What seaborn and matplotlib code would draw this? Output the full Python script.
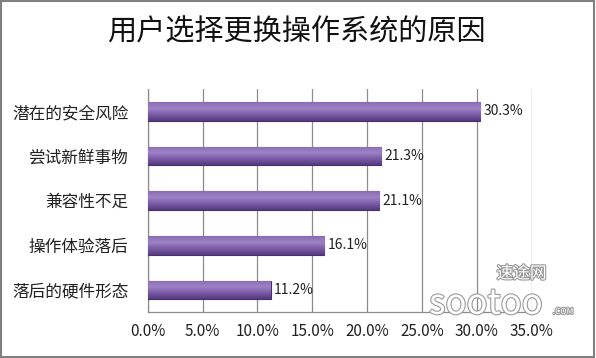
import numpy as np
import pandas as pd
import seaborn as sns
import matplotlib.pyplot as plt
import matplotlib.patheffects as pe
from matplotlib.patches import Rectangle
from matplotlib.colors import LinearSegmentedColormap

# data
reasons = ['潜在的安全风险', '尝试新鲜事物', '兼容性不足', '操作体验落后', '落后的硬件形态']
shares = [30.3, 21.3, 21.1, 16.1, 11.2]
xticks = [0, 5, 10, 15, 20, 25, 30, 35]

sns.set_theme(style='white')
plt.rcParams['font.family'] = ['Noto Sans CJK SC', 'DejaVu Sans']

df = pd.DataFrame({'reason': reasons, 'share': shares})

fig = plt.figure(figsize=(5.96, 3.58), dpi=100)
ax = fig.add_axes([0.248, 0.128, 0.644, 0.623])

sns.barplot(data=df, x='share', y='reason', color='#7B5BA6', edgecolor='#46306b',
            linewidth=0.8, width=0.42, ax=ax, zorder=3)

# cylinder shading: gradient clipped to each bar
cyl = LinearSegmentedColormap.from_list('cyl', ['#8a6cb5', '#9c83c5', '#7b5ba6', '#553a80'])
grad = np.linspace(0, 1, 64).reshape(-1, 1)
xl, yl = ax.get_xlim(), ax.get_ylim()
for p in list(ax.patches):
    x0, y0 = p.get_x(), p.get_y()
    w, h = p.get_width(), p.get_height()
    im = ax.imshow(grad, cmap=cyl, aspect='auto', origin='upper',
                   extent=[x0, x0 + w, y0 + h, y0], zorder=3.5)
    im.set_clip_path(p)
ax.set_xlim(xl)
ax.set_ylim(yl)

for i, v in enumerate(shares):
    ax.text(v + 0.3, i, f'{v}%', va='center', ha='left', fontsize=10, color='#222222', zorder=5)

ax.set_xlim(0, 35)
ax.set_xticks(xticks)
ax.set_xticklabels([f'{t:.1f}%' for t in xticks], fontsize=11, color='#222222')
ax.set_yticks(range(len(reasons)))
ax.set_yticklabels(reasons, fontsize=12, color='#222222')
ax.set_yticks(np.arange(-0.5, len(reasons), 1), minor=True)
ax.tick_params(axis='y', which='major', length=0, pad=14)
ax.tick_params(axis='y', which='minor', length=5, color='#888888', direction='out')
ax.tick_params(axis='x', length=0, pad=8)
ax.set_xlabel('')
ax.set_ylabel('')
ax.grid(axis='x', color='#8c8c8c', lw=0.9, zorder=0)
for s in ['top', 'right']:
    ax.spines[s].set_visible(False)
for s in ['left', 'bottom']:
    ax.spines[s].set_color('#8c8c8c')
    ax.spines[s].set_linewidth(0.9)

fig.text(0.497, 0.908, '用户选择更换操作系统的原因', ha='center', va='center', fontsize=21, color='#111111')

# watermark
wm = [pe.withStroke(linewidth=1.6, foreground='#9a9a9a')]
fig.text(0.875, 0.235, '速途网', ha='center', va='center', fontsize=12, color='white', path_effects=wm)
fig.text(0.815, 0.15, 'sootoo', ha='center', va='center', fontsize=25, color='white', path_effects=wm)
fig.text(0.945, 0.13, '.COM', ha='center', va='center', fontsize=6, color='white', path_effects=wm)

fig.patches.append(Rectangle((0.002, 0.003), 0.995, 0.994, transform=fig.transFigure,
                             fill=False, edgecolor='#808080', lw=1.5))

fig.savefig('out.png', dpi=100)
